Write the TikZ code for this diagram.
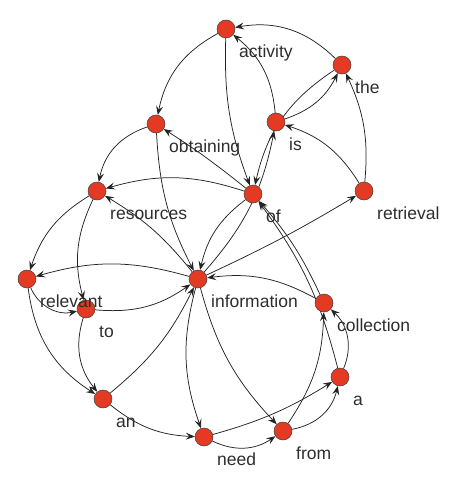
\documentclass[tikz,border=0pt]{standalone}
\usepackage{fontspec}
\setmainfont{Liberation Sans}
\usetikzlibrary{calc,arrows.meta,backgrounds}
\definecolor{nodered}{RGB}{228,58,36}
\definecolor{linegray}{RGB}{35,35,35}
\definecolor{textgray}{RGB}{45,45,45}
\tikzset{
	word/.style={circle, draw=black!75, line width=0.5pt, fill=nodered, minimum size=18pt, inner sep=0pt},
	tag/.style={anchor=base west, inner sep=0pt, text=textgray, font=\fontsize{17.5}{21}\selectfont},
	link/.style={draw=linegray, line width=0.75pt, -{Stealth[length=9pt,width=7pt,inset=3.5pt]}}
}

\begin{document}
\begin{tikzpicture}[x=1pt, y=1pt]
		%%%%% START %%%%%
		\useasboundingbox (0,0) rectangle (457,-487);
		
		\node[word] (w-activity) at (226,-29) {};
		\node[word] (w-the) at (342,-65) {};
		\node[word] (w-obtaining) at (156,-124) {};
		\node[word] (w-is) at (276,-122) {};
		\node[word] (w-resources) at (97,-191) {};
		\node[word] (w-of) at (253,-194) {};
		\node[word] (w-retrieval) at (364,-191) {};
		\node[word] (w-relevant) at (27,-279) {};
		\node[word] (w-to) at (86,-309) {};
		\node[word] (w-information) at (198,-279) {};
		\node[word] (w-collection) at (324,-303) {};
		\node[word] (w-a) at (340,-377) {};
		\node[word] (w-an) at (103,-399) {};
		\node[word] (w-need) at (204,-437) {};
		\node[word] (w-from) at (283,-431) {};
		
		\node[tag] (t-activity) at ($(w-activity)+(13,-28)$) {activity};
		\node[tag] (t-the) at ($(w-the)+(13,-28)$) {the};
		\node[tag] (t-obtaining) at ($(w-obtaining)+(13,-28)$) {obtaining};
		\node[tag] (t-is) at ($(w-is)+(13,-28)$) {is};
		\node[tag] (t-resources) at ($(w-resources)+(13,-28)$) {resources};
		\node[tag] (t-of) at ($(w-of)+(13,-28)$) {of};
		\node[tag] (t-retrieval) at ($(w-retrieval)+(13,-28)$) {retrieval};
		\node[tag] (t-relevant) at ($(w-relevant)+(13,-28)$) {relevant};
		\node[tag] (t-to) at ($(w-to)+(13,-28)$) {to};
		\node[tag] (t-information) at ($(w-information)+(13,-28)$) {information};
		\node[tag] (t-collection) at ($(w-collection)+(13,-28)$) {collection};
		\node[tag] (t-a) at ($(w-a)+(13,-28)$) {a};
		\node[tag] (t-an) at ($(w-an)+(13,-28)$) {an};
		\node[tag] (t-need) at ($(w-need)+(13,-28)$) {need};
		\node[tag] (t-from) at ($(w-from)+(13,-28)$) {from};
		
		\begin{pgfonlayer}{background}
		% information retrieval is the activity of obtaining ...
		\draw[link] (w-information) to[bend right=3] (w-retrieval);
		\draw[link] (w-information) to[bend right=15] (w-is);
		\draw[link] (w-retrieval) to[bend right=20] (w-is);
		\draw[link] (w-retrieval) to[bend right=15] (w-the);
		\draw[link] (w-is) to[bend right=22] (w-the);
		\draw[link] (w-is) to[bend right=23] (w-activity);
		\draw[link] (w-the) to[bend right=27] (w-activity);
		\draw[link] (w-the) to[bend right=22] (w-of);
		\draw[link] (w-activity) to[bend right=11] (w-of);
		\draw[link] (w-activity) to[bend right=25] (w-obtaining);
		\draw[link] (w-of) to[bend right=3] (w-obtaining);
		\draw[link] (w-of) to[bend right=20] (w-information);
		\draw[link] (w-obtaining) to[bend right=12] (w-information);
		\draw[link] (w-obtaining) to[bend right=30] (w-resources);
		
		% ... information resources relevant to an information need ...
		\draw[link] (w-information) to[bend right=10] (w-resources);
		\draw[link] (w-information) to[bend right=16] (w-relevant);
		\draw[link] (w-resources) to[bend right=20] (w-relevant);
		\draw[link] (w-resources) to[bend right=20] (w-to);
		\draw[link] (w-relevant) to[bend right=40] (w-to);
		\draw[link] (w-relevant) to[bend right=25] (w-an);
		\draw[link] (w-to) to[bend right=28] (w-an);
		\draw[link] (w-to) to[bend right=20] (w-information);
		\draw[link] (w-an) to[bend right=12] (w-information);
		\draw[link] (w-an) to[bend right=18] (w-need);
		\draw[link] (w-information) to[bend right=17] (w-need);
		\draw[link] (w-information) to[bend right=14] (w-from);
		
		% ... from a collection of information resources
		\draw[link] (w-need) to[bend right=30] (w-from);
		\draw[link] (w-need) to[bend right=8] (w-a);
		\draw[link] (w-from) to[bend right=33] (w-a);
		\draw[link] (w-from) to[bend right=16] (w-collection);
		\draw[link] (w-a) to[bend right=35] (w-collection);
		\draw[link] (w-a) to[bend right=11] (w-of);
		\draw[link] (w-collection) to[bend right=8] (w-of);
		\draw[link] (w-collection) to[bend right=18] (w-information);
		\draw[link] (w-of) to[bend right=17] (w-resources);
		\end{pgfonlayer}
		
		%%%%% END %%%%%
	\end{tikzpicture}
\end{document}
